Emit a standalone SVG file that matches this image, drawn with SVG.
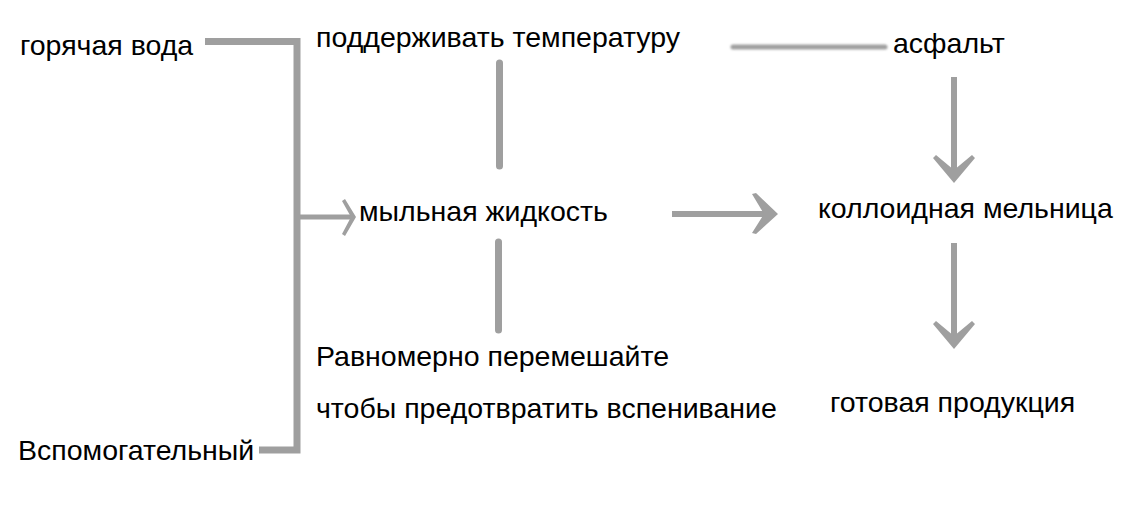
<svg xmlns="http://www.w3.org/2000/svg" width="1137" height="505" viewBox="0 0 1137 505">
<defs>
<style>
text{font-family:"Liberation Sans",Arial,sans-serif;font-size:28.5px;fill:#000}
.ln{stroke:#9f9f9f;fill:none}
.hd{fill:#9f9f9f;stroke:none}
</style>
<filter id="blur" filterUnits="userSpaceOnUse" x="720" y="35" width="180" height="25"><feGaussianBlur stdDeviation="1.2"/></filter>
</defs>
<rect width="1137" height="505" fill="#fff"/>
<g id="connectors">
<path class="ln" d="M205 41.5H297V450H259" stroke-width="7"/>
<line class="ln" x1="297" y1="217" x2="352" y2="217" stroke-width="5"/>
<polygon class="hd" points="342,201 345,199 356,217 345,236 342,234 351,217"/>
<line class="ln" x1="499.5" y1="63" x2="499.5" y2="166" stroke-width="7" stroke-linecap="round"/>
<line class="ln" x1="498.5" y1="242" x2="498.5" y2="330" stroke-width="7" stroke-linecap="round"/>
<line class="ln" x1="733" y1="47" x2="885" y2="47" stroke-width="5" stroke-linecap="round" filter="url(#blur)"/>
<line class="ln" x1="954" y1="77" x2="954" y2="176" stroke-width="6"/>
<polygon class="hd" points="933,158 936,155 954,170 972,155 975,158 954,183"/>
<line class="ln" x1="672" y1="214" x2="770" y2="214" stroke-width="6"/>
<polygon class="hd" points="752,194 756,193 778,214 756,234 752,233 764,214"/>
<line class="ln" x1="954" y1="243" x2="954" y2="342" stroke-width="6"/>
<polygon class="hd" points="933,324 936,321 954,336 972,321 975,324 954,349"/>
</g>
<g id="n-hot-water"><text x="20" y="55">горячая вода</text></g>
<g id="n-temp"><text x="316" y="47">поддерживать температуру</text></g>
<g id="n-asphalt"><text x="893" y="53">асфальт</text></g>
<g id="n-soap"><text x="359" y="221">мыльная жидкость</text></g>
<g id="n-mill"><text x="818" y="218">коллоидная мельница</text></g>
<g id="n-mix"><text x="316" y="366">Равномерно перемешайте</text><text x="316" y="418">чтобы предотвратить вспенивание</text></g>
<g id="n-product"><text x="830" y="412">готовая продукция</text></g>
<g id="n-aux"><text x="18" y="460">Вспомогательный</text></g>
</svg>
